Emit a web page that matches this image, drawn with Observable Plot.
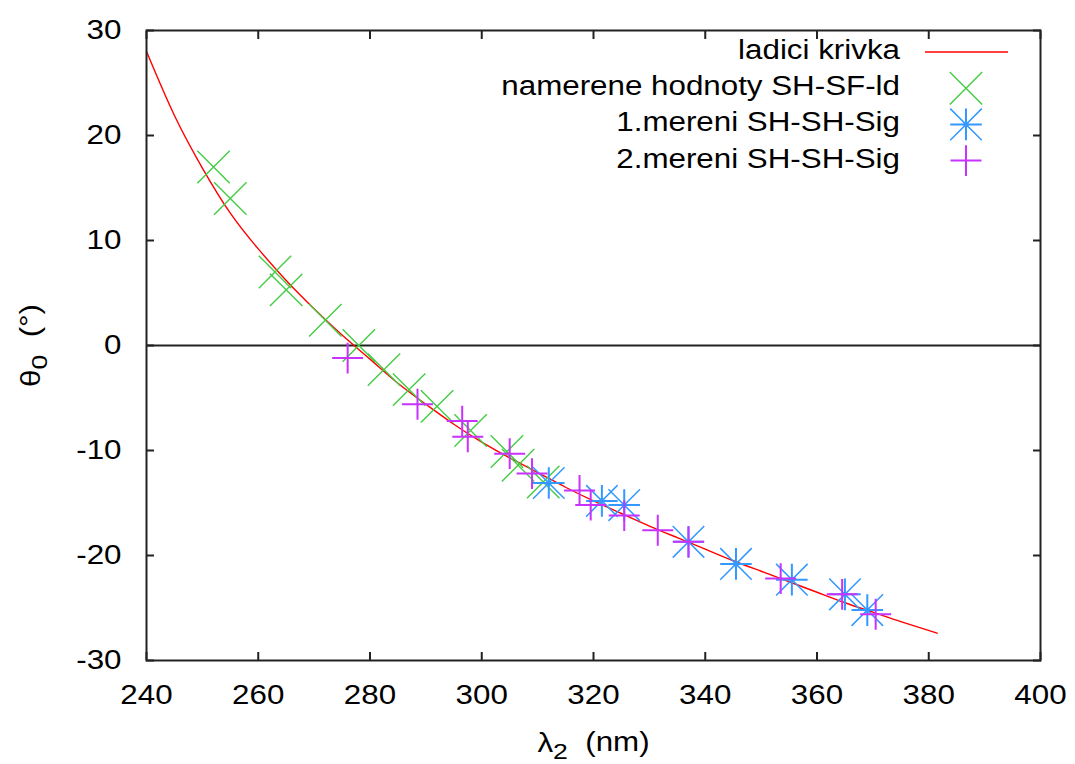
<!DOCTYPE html>
<html><head><meta charset="utf-8">
<script src="https://cdn.jsdelivr.net/npm/d3@7"></script>
<script src="https://cdn.jsdelivr.net/npm/@observablehq/plot@0.6"></script>
<style>
body{margin:0;background:#fff;}
#wrap{position:relative;width:1075px;height:764px;}
#wrap svg text{font-family:"Liberation Sans",Arial,sans-serif;}
#legend{position:absolute;left:0;top:0;pointer-events:none;}
</style></head><body><div id="wrap"></div>
<script>
// ---- data ----
const fitX = [240, 245, 250, 255, 260, 265, 270, 275, 280, 285, 290, 295, 300, 305, 310, 315, 320, 325, 330, 335, 340, 345, 350, 355, 360, 365, 370, 375, 381.5];
const fitY = [28.0, 21.9, 16.9, 12.6, 9.2, 6.2, 3.5, 1.0, -1.3, -3.6, -5.6, -7.5, -9.2, -10.7, -12.1, -13.5, -14.8, -16.0, -17.2, -18.3, -19.4, -20.5, -21.5, -22.5, -23.5, -24.5, -25.4, -26.3, -27.4];

const greenX = [252, 255, 263, 265, 272, 278, 282.5, 287, 292, 298, 304.5, 306.5, 311];
const greenY = [17, 14, 7, 5.3, 2.4, 0, -2.3, -4.2, -5.8, -8.1, -10.1, -11.4, -13];

const blueX = [312, 321.5, 325.5, 337, 345.5, 355.5, 365, 369];
const blueY = [-13.1, -14.8, -15.2, -18.7, -20.8, -22.3, -23.7, -25.2];

const purpleX = [276, 288.5, 296.5, 297.5, 305, 309, 317.5, 319.5, 325.5, 331.5, 337, 353.5, 364.5, 370.5];
const purpleY = [-1.2, -5.6, -7.2, -8.7, -10.3, -12.2, -13.8, -15.2, -16.2, -17.6, -18.7, -22.2, -23.7, -25.6];

const xTicks = [240, 260, 280, 300, 320, 340, 360, 380, 400];
const yTicks = [-30, -20, -10, 0, 10, 20, 30];

const legendLabels = ["ladici krivka", "namerene hodnoty SH-SF-ld", "1.mereni SH-SH-Sig", "2.mereni SH-SH-Sig"];
const xLabel = ["λ", "2", "\u00a0\u00a0(nm)"];   // main, subscript, rest
const yLabel = ["θ", "0", "\u00a0\u00a0(°)"];

// ---- styles ----
const RED = "#ff0000", GREEN = "#44cc44", BLUE = "#3399ff", PURPLE = "#c832ff";
const FRAME = "#222";
const FS = 27, STRETCH = 1.16;

const zip = (xs, ys) => xs.map((x, i) => ({x, y: ys[i]}));
const fit = zip(fitX, fitY);
const green = zip(greenX, greenY);
const blue = zip(blueX, blueY);
const purple = zip(purpleX, purpleY);

const plot = Plot.plot({
  width: 1075, height: 764,
  marginLeft: 146, marginRight: 35, marginTop: 30, marginBottom: 104,
  style: {fontFamily: "Liberation Sans, Arial, sans-serif", fontSize: FS + "px", background: "#fff", color: "#000", overflow: "visible"},
  x: {domain: [240, 400]},
  y: {domain: [-30, 30]},
  marks: [
    Plot.ruleY([0], {stroke: FRAME, strokeWidth: 2}),
    Plot.line(fit, {x: "x", y: "y", stroke: RED, strokeWidth: 1.4, curve: "natural"}),
    Plot.dot(green, {x: "x", y: "y", symbol: "times", r: 14.8, stroke: GREEN, strokeWidth: 1.4}),
    Plot.dot(blue, {x: "x", y: "y", symbol: "times", r: 14.4, stroke: BLUE, strokeWidth: 1.5}),
    Plot.dot(blue, {x: "x", y: "y", symbol: "plus", r: 10.2, stroke: BLUE, strokeWidth: 2}),
    Plot.dot(blue, {x: "x", y: "y", r: 2.6, fill: BLUE, stroke: "none"}),
    Plot.dot(purple, {x: "x", y: "y", symbol: "plus", r: 10, stroke: PURPLE, strokeWidth: 2}),
    // axes: labels outside, ticks inward on all four sides
    Plot.axisX(xTicks, {anchor: "bottom", tickSize: 0, tickPadding: 24, label: null, fontSize: FS, tickFormat: d => String(d)}),
    Plot.axisY(yTicks, {anchor: "left", tickSize: 0, tickPadding: 25, label: null, fontSize: FS, tickFormat: d => String(d)}),
    Plot.axisX(xTicks, {anchor: "bottom", tickSize: -8, tickFormat: () => "", label: null, stroke: FRAME, strokeWidth: 2}),
    Plot.axisX(xTicks, {anchor: "top", tickSize: -8, tickFormat: () => "", label: null, stroke: FRAME, strokeWidth: 2}),
    Plot.axisY(yTicks, {anchor: "left", tickSize: -8, tickFormat: () => "", label: null, stroke: FRAME, strokeWidth: 2}),
    Plot.axisY(yTicks, {anchor: "right", tickSize: -8, tickFormat: () => "", label: null, stroke: FRAME, strokeWidth: 2}),
    Plot.frame({stroke: FRAME, strokeWidth: 2}),
    Plot.text([xLabel.join("")], {text: d => d, frameAnchor: "bottom", dy: 83, fontSize: FS, textAnchor: "middle", lineAnchor: "middle", className: "xtitle"}),
    Plot.text([yLabel.join("")], {text: d => d, frameAnchor: "left", dx: -115, rotate: -90, fontSize: FS, textAnchor: "middle", lineAnchor: "middle", className: "ytitle"})
  ]
});
document.getElementById("wrap").appendChild(plot);

// real subscripts in the axis titles
function subscript(sel, parts) {
  sel.selectAll("text").each(function() {
    const t = d3.select(this);
    t.text(null);
    t.append("tspan").text(parts[0]);
    t.append("tspan").attr("dy", "0.3em").attr("font-size", FS * 0.85).text(parts[1]);
    t.append("tspan").attr("dy", "-0.3em").text(parts[2]);
  });
}
subscript(d3.select(plot).select("g.xtitle"), xLabel);
subscript(d3.select(plot).select("g.ytitle"), yLabel);

// ---- legend (inside the plot, top right) ----
const lg = d3.select("#wrap").append("svg").attr("id", "legend").attr("width", 1075).attr("height", 200);
const textRight = 900, symX = 966, base0 = 59, step = 36.2;
const rows = lg.selectAll("g").data(legendLabels).join("g")
  .attr("transform", (d, i) => `translate(0,${base0 + i * step})`);
rows.append("text").attr("x", textRight).attr("text-anchor", "end")
  .attr("font-size", FS).attr("fill", "#000").text(d => d);
const sym = (type, r) => d3.symbol().type(type).size(Math.PI * r * r)();
rows.each(function(d, i) {
  const g = d3.select(this).append("g").attr("transform", `translate(${symX},-7)`);
  if (i === 0) {
    g.append("line").attr("x1", -41).attr("x2", 42).attr("stroke", RED).attr("stroke-width", 1.4);
  } else if (i === 1) {
    g.append("path").attr("d", sym(d3.symbolTimes, 14.8)).attr("fill", "none").attr("stroke", GREEN).attr("stroke-width", 1.4);
  } else if (i === 2) {
    g.append("path").attr("d", sym(d3.symbolTimes, 14.4)).attr("fill", "none").attr("stroke", BLUE).attr("stroke-width", 1.5);
    g.append("path").attr("d", sym(d3.symbolPlus, 10.2)).attr("fill", "none").attr("stroke", BLUE).attr("stroke-width", 2);
    g.append("circle").attr("r", 2.6).attr("fill", BLUE);
  } else {
    g.append("path").attr("d", sym(d3.symbolPlus, 10)).attr("fill", "none").attr("stroke", PURPLE).attr("stroke-width", 2);
  }
});

// the reference's lettering is horizontally wide: stretch the glyphs
d3.selectAll("#wrap svg text").each(function() {
  const len = this.getComputedTextLength();
  if (len > 0) {
    this.setAttribute("textLength", (len * STRETCH).toFixed(1));
    this.setAttribute("lengthAdjust", "spacingAndGlyphs");
  }
});
</script>
</body></html>
